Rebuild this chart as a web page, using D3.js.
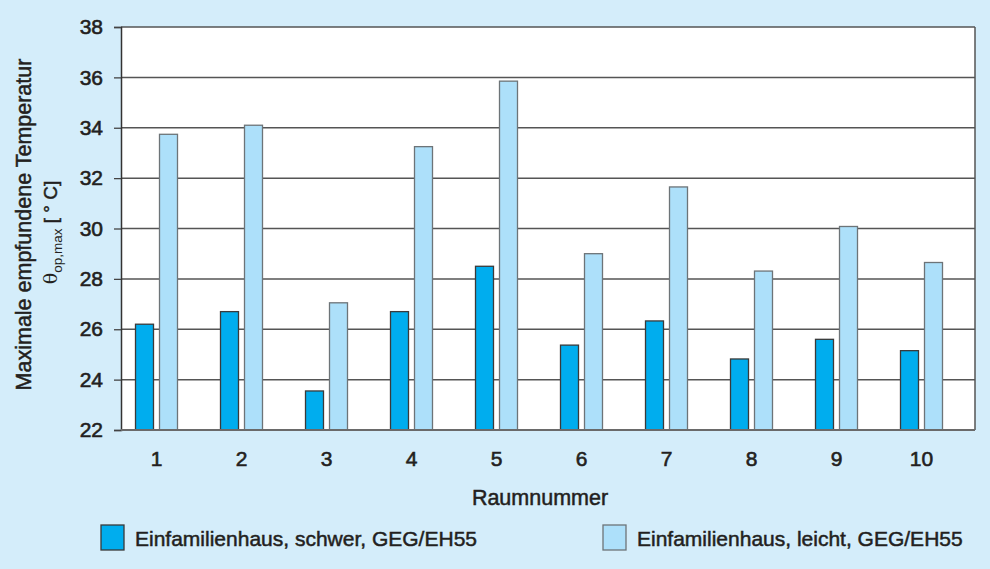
<!DOCTYPE html>
<html>
<head>
<meta charset="utf-8">
<script src="https://cdn.jsdelivr.net/npm/d3@7"></script>
<style>
  body { margin: 0; background: #d4edfa; }
  svg { display: block; }
  text { font-family: "Liberation Sans", Arial, sans-serif; fill: #231f20; }
</style>
</head>
<body>
<div class="container"></div>
<script>
const rooms = ["1", "2", "3", "4", "5", "6", "7", "8", "9", "10"]
const schwer = [26.2, 26.7, 23.55, 26.7, 28.5, 25.37, 26.33, 24.82, 25.6, 25.15]
const leicht = [33.74, 34.1, 27.05, 33.25, 35.85, 29.0, 31.65, 28.31, 30.08, 28.65]
const yTicks = [22, 24, 26, 28, 30, 32, 34, 36, 38]
const seriesNames = ["Einfamilienhaus, schwer, GEG/EH55", "Einfamilienhaus, leicht, GEG/EH55"]

const w = 990
const h = 569
const plotLeft = 121
const plotRight = 975
const plotTop = 27
const plotBottom = 430

const svg = d3.select(".container")
    .append("svg")
    .attr("width", w)
    .attr("height", h)

svg.append("rect")
    .attr("width", w).attr("height", h)
    .attr("fill", "#d4edfa")

// plot area
svg.append("rect")
    .attr("x", plotLeft).attr("y", plotTop)
    .attr("width", plotRight - plotLeft).attr("height", plotBottom - plotTop)
    .attr("fill", "#ffffff")

const xScale = d3.scaleBand()
    .domain(rooms)
    .range([114, 964])

const yScale = d3.scaleLinear()
    .domain([22, 38])
    .range([plotBottom, plotTop])

// gridlines
svg.append("g")
    .selectAll("line")
    .data(yTicks.slice(1))
    .enter()
    .append("line")
    .attr("x1", plotLeft).attr("x2", plotRight)
    .attr("y1", d => yScale(d)).attr("y2", d => yScale(d))
    .attr("stroke", "#555")
    .attr("stroke-width", 1.5)

// right border
svg.append("line")
    .attr("x1", plotRight).attr("x2", plotRight)
    .attr("y1", plotTop).attr("y2", plotBottom)
    .attr("stroke", "#555").attr("stroke-width", 1.5)

const barW = 18
const bars = svg.append("g")

bars.selectAll(".dark")
    .data(schwer)
    .enter()
    .append("rect")
    .attr("class", "dark")
    .attr("x", (d, i) => xScale(rooms[i]) + xScale.bandwidth() / 2 - 21)
    .attr("y", d => yScale(d))
    .attr("width", barW)
    .attr("height", d => yScale(22) - yScale(d))
    .attr("fill", "#00adee")
    .attr("stroke", "#3a3a3a")
    .attr("stroke-width", 1.3)

bars.selectAll(".light")
    .data(leicht)
    .enter()
    .append("rect")
    .attr("class", "light")
    .attr("x", (d, i) => xScale(rooms[i]) + xScale.bandwidth() / 2 + 3)
    .attr("y", d => yScale(d))
    .attr("width", barW)
    .attr("height", d => yScale(22) - yScale(d))
    .attr("fill", "#ade0fa")
    .attr("stroke", "#6d7478")
    .attr("stroke-width", 1.3)

// axes
const yAxis = d3.axisLeft(yScale).tickValues(yTicks).tickSize(7).tickPadding(11)
const gy = svg.append("g")
    .attr("transform", "translate(" + plotLeft + ",0)")
    .call(yAxis)
gy.select(".domain").attr("stroke", "#333").attr("stroke-width", 1.5)
gy.selectAll(".tick line").attr("stroke", "#444").attr("stroke-width", 1.3)
gy.selectAll(".tick text")
    .style("font-size", "21px")
    .attr("fill", "#231f20")
    .attr("stroke", "#231f20").attr("stroke-width", 0.6)

const xAxis = d3.axisBottom(xScale).tickSize(0).tickPadding(36)
const gx = svg.append("g")
    .attr("transform", "translate(0," + plotBottom + ")")
    .call(xAxis)
gx.select(".domain").remove()
gx.selectAll(".tick text")
    .attr("dy", null)
    .style("font-size", "21px")
    .attr("fill", "#231f20")
    .attr("stroke", "#231f20").attr("stroke-width", 0.6)

svg.append("line")
    .attr("x1", plotLeft).attr("x2", plotRight)
    .attr("y1", plotBottom).attr("y2", plotBottom)
    .attr("stroke", "#6a6a6a").attr("stroke-width", 2)

// axis titles
const midY = (plotTop + plotBottom) / 2
svg.append("text")
    .attr("transform", "translate(31," + (midY - 4) + ") rotate(-90)")
    .attr("text-anchor", "middle")
    .style("font-size", "21.5px")
    .attr("stroke", "#231f20").attr("stroke-width", 0.5)
    .text("Maximale empfundene Temperatur")

const t2 = svg.append("text")
    .attr("transform", "translate(57," + (midY + 4) + ") rotate(-90)")
    .attr("text-anchor", "middle")
    .style("font-size", "19px")
t2.append("tspan").style("font-family", "'DejaVu Serif', serif").text("θ")
t2.append("tspan").attr("dy", 5).style("font-size", "13.5px").text("op,max")
t2.append("tspan").attr("dy", -5).attr("stroke", "#231f20").attr("stroke-width", 0.5).text(" [ ° C]")

svg.append("text")
    .attr("x", 540)
    .attr("y", 505)
    .attr("text-anchor", "middle")
    .style("font-size", "21.5px")
    .attr("stroke", "#231f20").attr("stroke-width", 0.5)
    .text("Raumnummer")

// legend
const legendX = [101, 603]
const legendFill = ["#00adee", "#ade0fa"]
const legendStroke = ["#3a3a3a", "#6d7478"]
const legend = svg.append("g")
    .selectAll("g")
    .data(seriesNames)
    .enter()
    .append("g")
    .attr("transform", (d, i) => "translate(" + legendX[i] + ",525)")
legend.append("rect")
    .attr("width", 23).attr("height", 25)
    .attr("fill", (d, i) => legendFill[i])
    .attr("stroke", (d, i) => legendStroke[i])
    .attr("stroke-width", 1.3)
legend.append("text")
    .attr("x", 34).attr("y", 20.5)
    .style("font-size", "21px")
    .attr("stroke", "#231f20").attr("stroke-width", 0.5)
    .text(d => d)
</script>
</body>
</html>
